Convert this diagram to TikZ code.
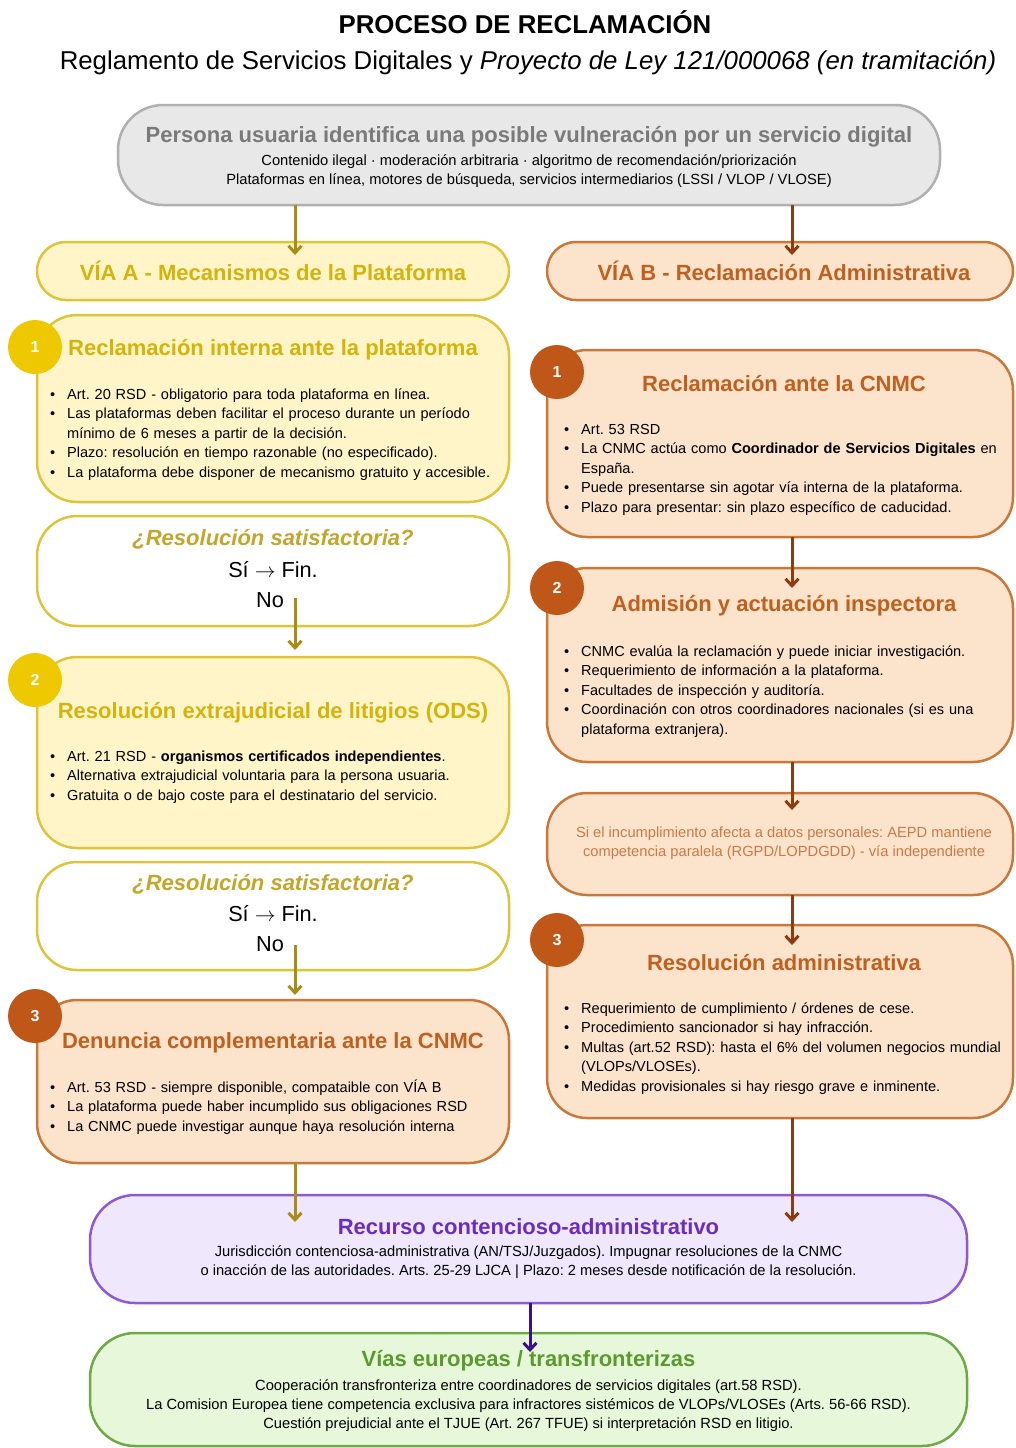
\documentclass[tikz,border=0pt]{standalone}
\usepackage{fontspec}
\setmainfont{Liberation Sans}
\usetikzlibrary{arrows.meta, positioning, calc}
\definecolor{goldbg}{HTML}{FFF5C8}
\definecolor{goldln}{HTML}{DDC43A}
\definecolor{goldtx}{HTML}{D4B30C}
\definecolor{goldq}{HTML}{C4A62A}
\definecolor{goldnum}{HTML}{EEC800}
\definecolor{goldarr}{HTML}{A98C14}
\definecolor{rustbg}{HTML}{FCE3CC}
\definecolor{rustln}{HTML}{C9783A}
\definecolor{rusttx}{HTML}{C0601E}
\definecolor{rustnum}{HTML}{BF5718}
\definecolor{rustarr}{HTML}{8A3D10}
\definecolor{rustsoft}{HTML}{C97A45}
\definecolor{greybg}{HTML}{E8E8E8}
\definecolor{greyln}{HTML}{B0B0B0}
\definecolor{greytx}{HTML}{7A7A7A}
\definecolor{lilacbg}{HTML}{EFE7FC}
\definecolor{lilacln}{HTML}{8C5AD6}
\definecolor{lilactx}{HTML}{6A2DC2}
\definecolor{lilacarr}{HTML}{3D0F8C}
\definecolor{leafbg}{HTML}{E7F8DA}
\definecolor{leafln}{HTML}{6DAA45}
\definecolor{leaftx}{HTML}{5B9B2E}
\frenchspacing
% first bullet of a list, then the following ones
\newcommand{\fitm}{\hangindent=17pt\hangafter=1\leavevmode\makebox[17pt][l]{\textbullet}}
\newcommand{\itm}{\par\fitm}

\begin{document}
\begin{tikzpicture}[x=1pt, y=1pt,
    box/.style={draw, line width=2.5pt, rounded corners=40pt, outer sep=0pt,
                inner sep=0pt},
    boxA/.style={box, draw=goldln, fill=goldbg, minimum width=472pt},
    boxB/.style={box, draw=rustln, fill=rustbg, minimum width=466pt},
    ttl/.style={inner sep=0pt, font=\bfseries\fontsize{22}{26}\selectfont},
    qttl/.style={inner sep=0pt, text=goldq,
                 font=\bfseries\itshape\fontsize{22}{26}\selectfont},
    qtxt/.style={inner sep=0pt, font=\fontsize{21.7}{26}\selectfont},
    num/.style={circle, minimum size=54pt, inner sep=0pt, text=white,
                font=\bfseries\fontsize{16}{16}\selectfont},
    list/.style={anchor=base west, text width=452pt, inner sep=0pt,
                 font=\fontsize{14.55}{19.5}\selectfont},
    note/.style={align=center, inner sep=0pt, font=\fontsize{14.7}{19}\selectfont},
    arr/.style={-{Straight Barb[length=7pt, width=13pt]}, line width=3pt},
]
    \useasboundingbox (0,0) rectangle (1015,-1448);

    \node[font=\bfseries\fontsize{25.8}{30}\selectfont] (ttl) at (525,-22) {PROCESO DE RECLAMACIÓN};
    \node[font=\fontsize{25.8}{30}\selectfont] (sub) at (528,-63)
        {Reglamento de Servicios Digitales y \textit{Proyecto de Ley 121/000068 (en tramitación)}};

    % origen
    \node[box, draw=greyln, fill=greybg, minimum width=822pt, minimum height=100pt,
          rounded corners=45pt] (usr) at (529,-155) {};
    \node[ttl, text=greytx] (usrt) at ($(usr.north)+(0,-32)$)
        {Persona usuaria identifica una posible vulneración por un servicio digital};
    \node[note] (usrl) at ($(usr.north)+(0,-66.5)$)
        {Contenido ilegal · moderación arbitraria · algoritmo de recomendación/priorización\\
         Plataformas en línea, motores de búsqueda, servicios intermediarios (LSSI / VLOP / VLOSE)};

    % via A
    \node[boxA, minimum height=58pt, rounded corners=29pt] (viaA) at (273,-271) {};
    \node[ttl, text=goldtx] (viaAt) at (viaA) {VÍA A - Mecanismos de la Plataforma};

    \node[boxA, minimum height=187pt, below=15pt of viaA] (a1) {};
    \node[num, fill=goldnum] (a1n) at ($(a1.north west)+(-2,-32)$) {1};
    \node[ttl, text=goldtx] (a1t) at ($(a1.north)+(0,-35)$) {Reclamación interna ante la plataforma};
    \node[list] (a1l) at ($(a1.north west)+(13,-84)$) {%
        \fitm Art. 20 RSD - obligatorio para toda plataforma en línea.
        \itm Las plataformas deben facilitar el proceso durante un período\newline
             mínimo de 6 meses a partir de la decisión.
        \itm Plazo: resolución en tiempo razonable (no especificado).
        \itm La plataforma debe disponer de mecanismo gratuito y accesible.\par};

    \node[boxA, fill=white, minimum height=110pt, below=14pt of a1] (q1) {};
    \node[qttl] (q1t) at ($(q1.north)+(0,-23)$) {¿Resolución satisfactoria?};
    \node[qtxt] (q1s) at ($(q1.north)+(0,-54)$) {Sí $\rightarrow$ Fin.};
    \node[qtxt] (q1n) at ($(q1.north)+(-3,-84)$) {No};

    \node[boxA, minimum height=191pt, below=31pt of q1] (a2) {};
    \node[num, fill=goldnum] (a2n) at ($(a2.north west)+(-2,-23)$) {2};
    \node[ttl, text=goldtx] (a2t) at ($(a2.north)+(0,-56)$) {Resolución extrajudicial de litigios (ODS)};
    \node[list] (a2l) at ($(a2.north west)+(13,-104)$) {%
        \fitm Art. 21 RSD - \textbf{organismos certificados independientes}.
        \itm Alternativa extrajudicial voluntaria para la persona usuaria.
        \itm Gratuita o de bajo coste para el destinatario del servicio.\par};

    \node[boxA, fill=white, minimum height=108pt, below=14pt of a2] (q2) {};
    \node[qttl] (q2t) at ($(q2.north)+(0,-22)$) {¿Resolución satisfactoria?};
    \node[qtxt] (q2s) at ($(q2.north)+(0,-52)$) {Sí $\rightarrow$ Fin.};
    \node[qtxt] (q2n) at ($(q2.north)+(-3,-82)$) {No};

    \node[boxB, minimum width=472pt, minimum height=163pt, below=30pt of q2] (a3) {};
    \node[num, fill=rustnum] (a3n) at ($(a3.north west)+(-2,-16)$) {3};
    \node[ttl, text=rusttx] (a3t) at ($(a3.north)+(0,-43)$) {Denuncia complementaria ante la CNMC};
    \node[list] (a3l) at ($(a3.north west)+(13,-92)$) {%
        \fitm Art. 53 RSD - siempre disponible, compataible con VÍA B
        \itm La plataforma puede haber incumplido sus obligaciones RSD
        \itm La CNMC puede investigar aunque haya resolución interna\par};

    % via B
    \node[boxB, minimum height=58pt, rounded corners=29pt] (viaB) at (780,-271) {};
    \node[ttl, text=rusttx] (viaBt) at ($(viaB)+(4,0)$) {VÍA B - Reclamación Administrativa};

    \node[boxB, minimum height=187pt, below=50pt of viaB] (b1) {};
    \node[num, fill=rustnum] (b1n) at ($(b1.north west)+(10,-22)$) {1};
    \node[ttl, text=rusttx] (b1t) at ($(b1.north)+(4,-34)$) {Reclamación ante la CNMC};
    \node[list, text width=440pt] (b1l) at ($(b1.north west)+(17,-84)$) {%
        \fitm Art. 53 RSD
        \itm La CNMC actúa como \textbf{Coordinador de Servicios Digitales} en\newline
             España.
        \itm Puede presentarse sin agotar vía interna de la plataforma.
        \itm Plazo para presentar: sin plazo específico de caducidad.\par};

    \node[boxB, minimum height=194pt, below=31pt of b1] (b2) {};
    \node[num, fill=rustnum] (b2n) at ($(b2.north west)+(10,-20)$) {2};
    \node[ttl, text=rusttx] (b2t) at ($(b2.north)+(4,-38)$) {Admisión y actuación inspectora};
    \node[list, text width=440pt] (b2l) at ($(b2.north west)+(17,-88)$) {%
        \fitm CNMC evalúa la reclamación y puede iniciar investigación.
        \itm Requerimiento de información a la plataforma.
        \itm Facultades de inspección y auditoría.
        \itm Coordinación con otros coordinadores nacionales (si es una\newline
             plataforma extranjera).\par};

    \node[boxB, minimum height=102pt, below=31pt of b2] (aepd) {};
    \node[note, text=rustsoft] (aepdt) at ($(aepd.north)+(4,-50.5)$)
        {Si el incumplimiento afecta a datos personales: AEPD mantiene\\
         competencia paralela (RGPD/LOPDGDD) - vía independiente};

    \node[boxB, minimum height=193pt, below=30pt of aepd] (b3) {};
    \node[num, fill=rustnum] (b3n) at ($(b3.north west)+(10,-15)$) {3};
    \node[ttl, text=rusttx] (b3t) at ($(b3.north)+(4,-38)$) {Resolución administrativa};
    \node[list, text width=440pt] (b3l) at ($(b3.north west)+(17,-88)$) {%
        \fitm Requerimiento de cumplimiento / órdenes de cese.
        \itm Procedimiento sancionador si hay infracción.
        \itm Multas (art.52 RSD): hasta el 6\% del volumen negocios mundial\newline
             (VLOPs/VLOSEs).
        \itm Medidas provisionales si hay riesgo grave e inminente.\par};

    % vias finales
    \node[box, draw=lilacln, fill=lilacbg, minimum width=877pt, minimum height=108pt,
          rounded corners=45pt] (rec) at (528.5,-1249) {};
    \node[ttl, text=lilactx] (rect) at ($(rec.north)+(0,-32)$) {Recurso contencioso-administrativo};
    \node[note] (recl) at ($(rec.north)+(0,-67.5)$)
        {Jurisdicción contenciosa-administrativa (AN/TSJ/Juzgados). Impugnar resoluciones de la CNMC\\
         o inacción de las autoridades. Arts. 25-29 LJCA | Plazo: 2 meses desde notificación de la resolución.};

    \node[box, draw=leafln, fill=leafbg, minimum width=877pt, minimum height=113pt,
          rounded corners=45pt, below=30pt of rec] (eu) {};
    \node[ttl, text=leaftx] (eut) at ($(eu.north)+(0,-28)$) {Vías europeas / transfronterizas};
    \node[note] (eul) at ($(eu.north)+(0,-73)$)
        {Cooperación transfronteriza entre coordinadores de servicios digitales (art.58 RSD).\\
         La Comision Europea tiene competencia exclusiva para infractores sistémicos de VLOPs/VLOSEs (Arts. 56-66 RSD).\\
         Cuestión prejudicial ante el TJUE (Art. 267 TFUE) si interpretación RSD en litigio.};

    % flechas
    \coordinate (lx) at (295,0);
    \coordinate (rx) at (792,0);
    \coordinate (mx) at (530,0);
    \draw[arr, goldarr] (usr.south -| lx) -- ($(viaA.north -| lx)+(0,-13)$);
    \draw[arr, rustarr] (usr.south -| rx) -- ($(viaB.north -| rx)+(0,-13)$);
    \draw[arr, goldarr] ($(q1.north -| lx)+(0,-82)$) -- ($(a2.north -| lx)+(0,7)$);
    \draw[arr, goldarr] ($(q2.north -| lx)+(0,-83)$) -- ($(a3.north -| lx)+(0,5)$);
    \draw[arr, goldarr] (a3.south -| lx) -- ($(rec.north -| lx)+(0,-27)$);
    \draw[arr, rustarr] (b1.south -| rx) -- ($(b2.north -| rx)+(0,-20)$);
    \draw[arr, rustarr] (b2.south -| rx) -- ($(aepd.north -| rx)+(0,-17)$);
    \draw[arr, rustarr] (aepd.south -| rx) -- ($(b3.north -| rx)+(0,-20)$);
    \draw[arr, rustarr] (b3.south -| rx) -- ($(rec.north -| rx)+(0,-27)$);
    \draw[arr, lilacarr] (rec.south -| mx) -- ($(eu.north -| mx)+(0,-19)$);
\end{tikzpicture}
\end{document}
